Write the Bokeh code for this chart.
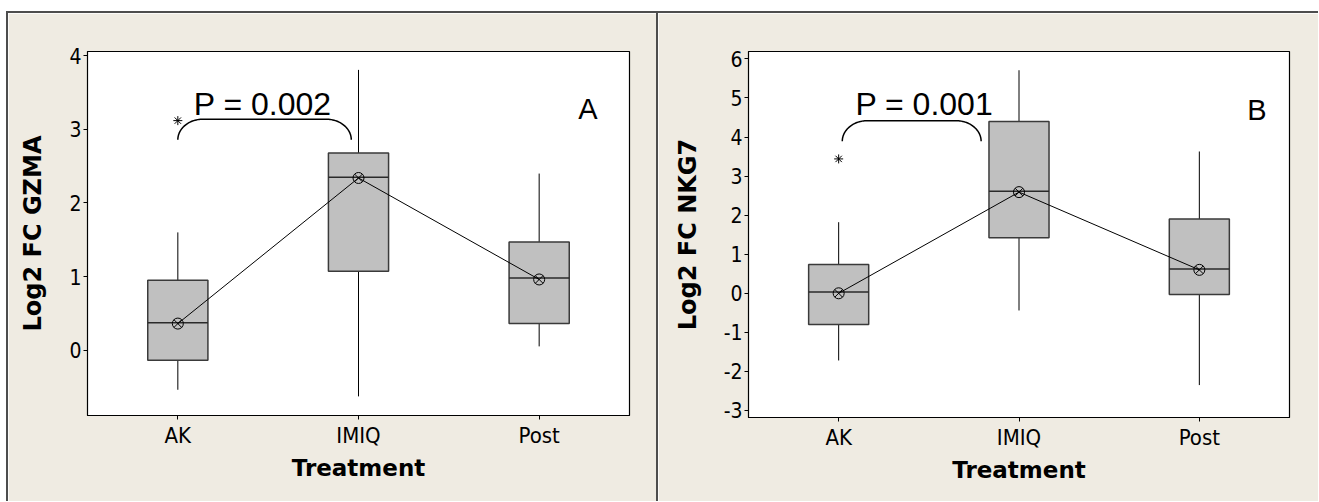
import numpy as np
from bokeh.plotting import figure
from bokeh.layouts import row
from bokeh.models import FixedTicker, ColumnDataSource
from bokeh.embed import file_html
from bokeh.resources import INLINE
from bokeh.core.properties import value

# ---------------- data ----------------
categories = ["AK", "IMIQ", "Post"]
cat_pos = [1, 2, 3]

# Panel A : Log2 FC GZMA
gzma_low = [-0.54, -0.63, 0.05]
gzma_q1 = [-0.14, 1.07, 0.36]
gzma_median = [0.37, 2.35, 0.98]
gzma_q3 = [0.95, 2.68, 1.47]
gzma_high = [1.60, 3.81, 2.40]
gzma_mean = [0.36, 2.34, 0.96]
gzma_outlier_cat = [1]
gzma_outlier_val = [3.12]
gzma_bracket_x = [1.0, 1.96]
gzma_bracket_y = [2.86, 3.14]
gzma_p_text = "P = 0.002"
gzma_p_pos = [1.47, 3.35]
gzma_letter = "A"
gzma_letter_pos = [3.27, 3.28]
gzma_yticks = [0, 1, 2, 3, 4]
gzma_yrange = [-0.89, 4.06]

# Panel B : Log2 FC NKG7
nkg7_low = [-1.72, -0.44, -2.35]
nkg7_q1 = [-0.80, 1.42, -0.03]
nkg7_median = [0.03, 2.61, 0.62]
nkg7_q3 = [0.74, 4.40, 1.90]
nkg7_high = [1.82, 5.71, 3.63]
nkg7_mean = [0.00, 2.59, 0.60]
nkg7_outlier_cat = [1]
nkg7_outlier_val = [3.44]
nkg7_bracket_x = [1.02, 1.79]
nkg7_bracket_y = [3.89, 4.42]
nkg7_p_text = "P = 0.001"
nkg7_p_pos = [1.475, 4.85]
nkg7_letter = "B"
nkg7_letter_pos = [3.32, 4.68]
nkg7_yticks = [-3, -2, -1, 0, 1, 2, 3, 4, 5, 6]
nkg7_yrange = [-3.18, 6.19]

# ---------------- styling ----------------
BEIGE = "#efebe2"
BORDER = "#4d4d4d"
TICK_FONT = "DejaVu Sans Condensed, DejaVu Sans"
TITLE_FONT = "DejaVu Sans"
ARIAL = "Liberation Sans"
BOX_W = 0.333


def bracket_path(xs, ys, rx=0.14, n=30):
    x0, x1 = xs
    yb, yt = ys
    ry = yt - yb
    t1 = np.linspace(np.pi, np.pi / 2, n)
    t2 = np.linspace(np.pi / 2, 0, n)
    lx = (x0 + rx) + rx * np.cos(t1)
    ly = yb + ry * np.sin(t1)
    rxs = (x1 - rx) + rx * np.cos(t2)
    rys = yb + ry * np.sin(t2)
    return np.concatenate([lx, rxs]), np.concatenate([ly, rys])


def make_panel(ylabel, low, q1, med, q3, high, mean, out_x, out_y,
               br_x, br_y, ptxt, ppos, letter, lpos, yticks, yrange,
               frame_w, frame_h, mb_left, mb_top, mb_right, mb_bottom):
    p = figure(frame_width=frame_w, frame_height=frame_h,
               x_range=(0.5, 3.5), y_range=tuple(yrange),
               output_backend="svg", toolbar_location=None,
               min_border_left=mb_left, min_border_top=mb_top,
               min_border_right=mb_right, min_border_bottom=mb_bottom)
    p.border_fill_color = BEIGE
    p.background_fill_color = "white"
    p.outline_line_color = "black"
    p.outline_line_width = 1.2
    p.xgrid.visible = False
    p.ygrid.visible = False

    src = ColumnDataSource(dict(x=cat_pos, low=low, q1=q1, med=med, q3=q3,
                                high=high, mean=mean,
                                ml=[c - BOX_W / 2 for c in cat_pos],
                                mr=[c + BOX_W / 2 for c in cat_pos]))
    # whiskers
    p.segment(x0="x", y0="q3", x1="x", y1="high", source=src,
              line_color="black", line_width=1)
    p.segment(x0="x", y0="q1", x1="x", y1="low", source=src,
              line_color="black", line_width=1)
    # boxes
    p.vbar(x="x", width=BOX_W, bottom="q1", top="q3", source=src,
           fill_color="#c0c0c0", line_color="#3a3a3a", line_width=1.5)
    # medians
    p.segment(x0="ml", y0="med", x1="mr", y1="med", source=src,
              line_color="#2a2a2a", line_width=1.5)
    # mean connect line + markers
    p.line(x="x", y="mean", source=src, line_color="black", line_width=1)
    p.scatter(x="x", y="mean", source=src, marker="circle_x", size=11,
              fill_color=None, line_color="black", line_width=1)
    # outliers
    p.scatter(x=out_x, y=out_y, marker="asterisk", size=9,
              line_color="black", line_width=1)
    # bracket
    bx, by = bracket_path(br_x, br_y)
    p.line(x=bx, y=by, line_color="black", line_width=1.5)
    # texts
    p.text(x=[ppos[0]], y=[ppos[1]], text=[ptxt], text_align="center",
           text_baseline="alphabetic", text_font=value(ARIAL),
           text_font_size="32px", text_color="black")
    p.text(x=[lpos[0]], y=[lpos[1]], text=[letter], text_align="center",
           text_baseline="alphabetic", text_font=value(ARIAL),
           text_font_size="29px", text_color="black")

    # axes
    p.xaxis.ticker = FixedTicker(ticks=cat_pos)
    p.xaxis.major_label_overrides = {c: n for c, n in zip(cat_pos, categories)}
    p.yaxis.ticker = FixedTicker(ticks=yticks)
    p.yaxis.major_label_overrides = {t: str(t) for t in yticks}
    for ax in (p.xaxis[0], p.yaxis[0]):
        ax.axis_line_color = "black"
        ax.axis_line_width = 1
        ax.major_tick_out = 4
        ax.major_tick_in = 0
        ax.minor_tick_out = 0
        ax.minor_tick_in = 0
        ax.major_tick_line_color = "black"
        ax.major_label_text_font = TICK_FONT
        ax.major_label_text_color = "black"
        ax.axis_label_text_font = TITLE_FONT
        ax.axis_label_text_font_style = "bold"
        ax.axis_label_text_color = "black"
    p.xaxis.major_label_text_font_size = "22px"
    p.yaxis.major_label_text_font_size = "21px"
    p.xaxis.major_label_standoff = 3
    p.yaxis.major_label_standoff = 2
    p.xaxis.axis_label = "Treatment"
    p.yaxis.axis_label = ylabel
    p.xaxis.axis_label_text_font_size = "23px"
    p.yaxis.axis_label_text_font_size = "24px"
    p.xaxis.axis_label_standoff = 4
    p.yaxis.axis_label_standoff = 19
    return p


pA = make_panel("Log2 FC GZMA", gzma_low, gzma_q1, gzma_median, gzma_q3,
                gzma_high, gzma_mean, gzma_outlier_cat, gzma_outlier_val,
                gzma_bracket_x, gzma_bracket_y, gzma_p_text, gzma_p_pos,
                gzma_letter, gzma_letter_pos, gzma_yticks, gzma_yrange,
                540, 364, 79, 38, 29, 86)
pB = make_panel("Log2 FC NKG7", nkg7_low, nkg7_q1, nkg7_median, nkg7_q3,
                nkg7_high, nkg7_mean, nkg7_outlier_cat, nkg7_outlier_val,
                nkg7_bracket_x, nkg7_bracket_y, nkg7_p_text, nkg7_p_pos,
                nkg7_letter, nkg7_letter_pos, nkg7_yticks, nkg7_yrange,
                541, 366, 90, 36, 29, 86)
pA.styles = {"border-right": f"2px solid {BORDER}"}

layout = row(pA, pB, spacing=0,
             styles={"margin-top": "11px", "margin-left": "6px",
                     "border-top": f"2px solid {BORDER}",
                     "border-left": f"2px solid {BORDER}"})

open("out.html", "w").write(file_html(layout, INLINE))
